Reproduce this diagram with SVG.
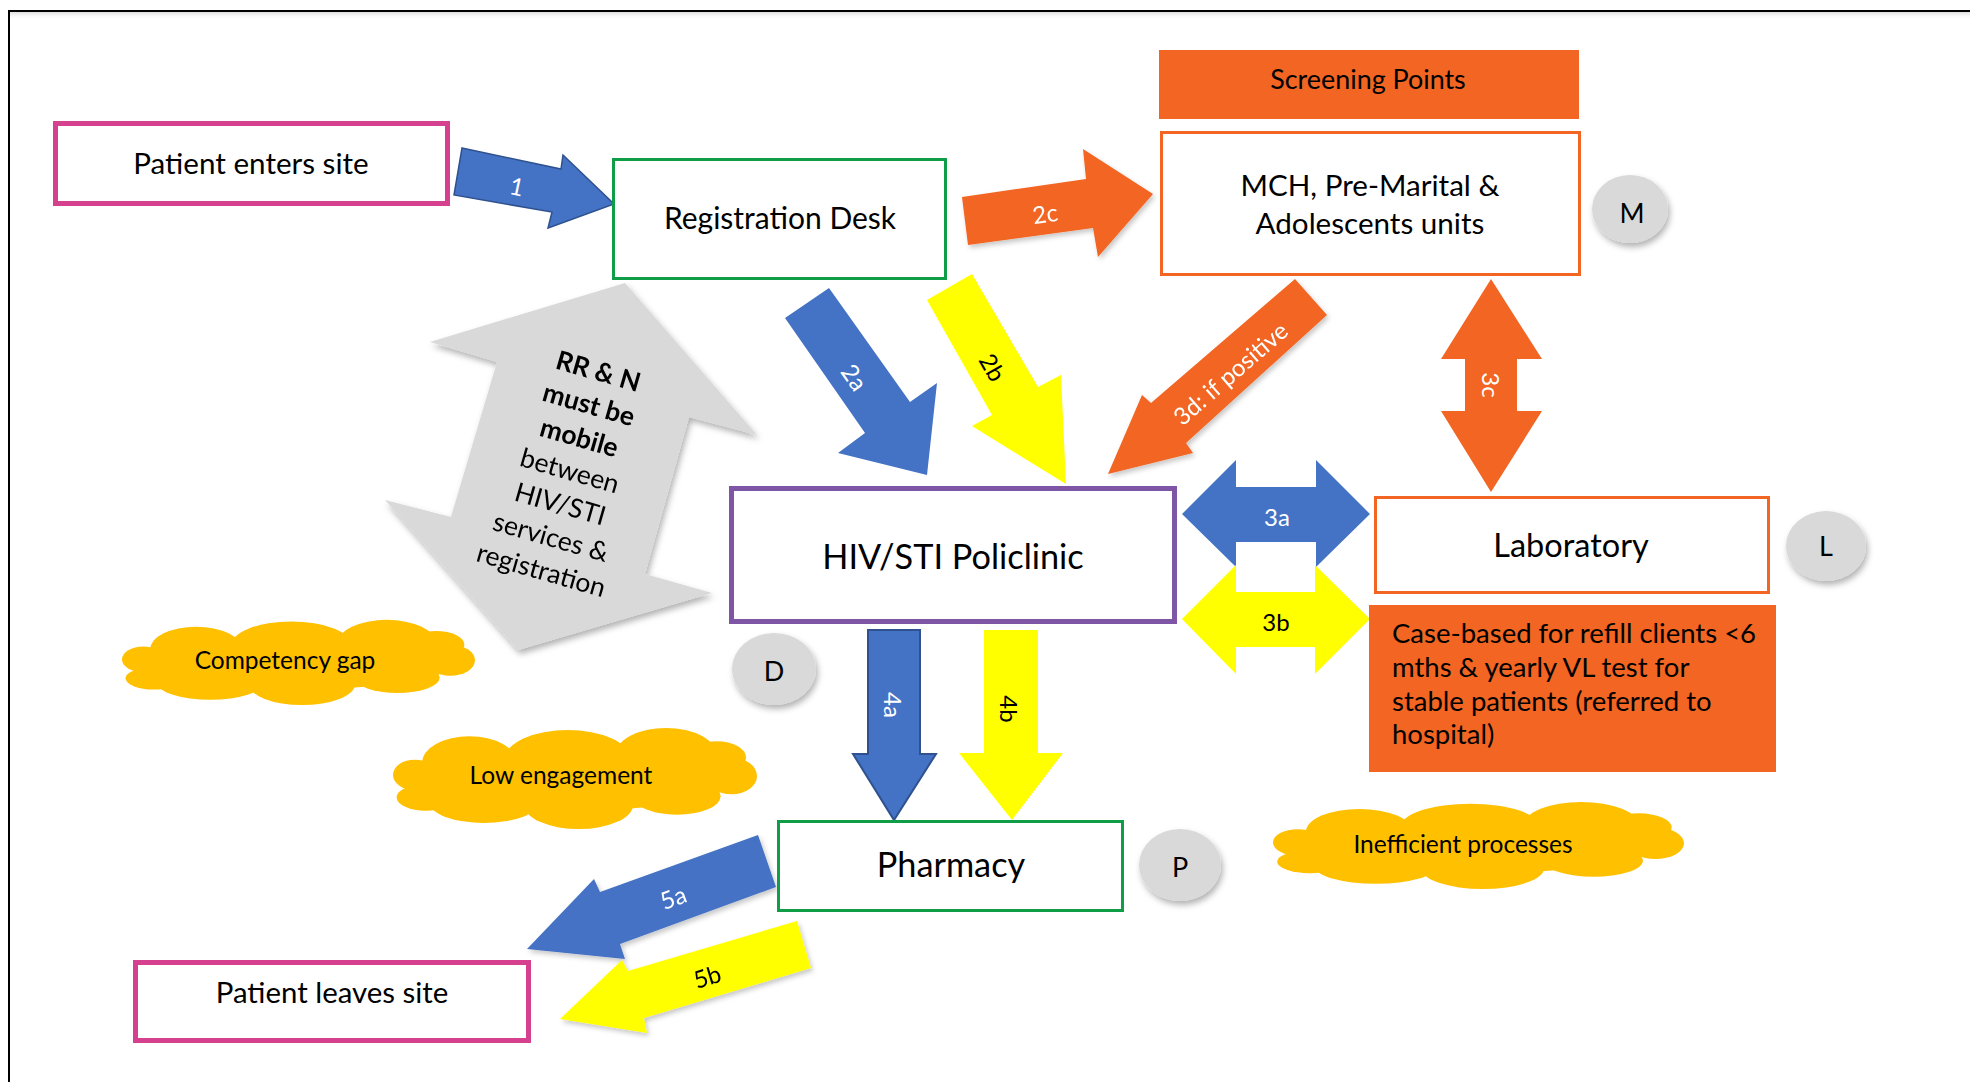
<svg xmlns="http://www.w3.org/2000/svg" xmlns:xlink="http://www.w3.org/1999/xlink" width="1970" height="1082" viewBox="0 0 1970 1082">
<style>
  text { font-family: Lato, "Liberation Sans", sans-serif; }
  .pink { stroke: #D5408F; stroke-width: 5; fill: #fff; }
  .green { stroke: #0F9D48; stroke-width: 3; fill: #fff; }
  .orangeS { stroke: #F26522; stroke-width: 3; fill: #fff; }
  .purple { stroke: #7F56A5; stroke-width: 5; fill: #fff; }
  .lbl { fill: #000; text-anchor: middle; }
  .circ { fill: #D9D9D9; filter: url(#sh); }
  .blue { fill: #4472C4; }
  .yellow { fill: #FFFF00; }
  .orange { fill: #F26522; }
  .gray { fill: #D9D9D9; }
  .alw { fill: #fff; font-size: 24px; text-anchor: middle; dominant-baseline: central; }
  .alb { fill: #000; font-size: 24px; text-anchor: middle; dominant-baseline: central; }
  .cloudtxt { fill: #000; font-size: 24.5px; text-anchor: middle; }
</style>
<defs>
  <filter id="sh" x="-30%" y="-30%" width="170%" height="180%">
    <feDropShadow dx="2" dy="4" stdDeviation="3" flood-color="#000" flood-opacity="0.3"/>
  </filter>
  <filter id="shs" x="-10%" y="-10%" width="130%" height="130%">
    <feDropShadow dx="2" dy="3" stdDeviation="2.5" flood-color="#000" flood-opacity="0.22"/>
  </filter>
  <linearGradient id="topsh" x1="0" y1="0" x2="0" y2="1">
    <stop offset="0" stop-color="#cfcfcf" stop-opacity="0.7"/>
    <stop offset="1" stop-color="#ffffff" stop-opacity="0"/>
  </linearGradient>
  <symbol id="cloud" viewBox="0 0 100 100" preserveAspectRatio="none">
    <g fill="#FFC000">
      <ellipse cx="50" cy="50" rx="42" ry="32"/>
      <ellipse cx="6" cy="47" rx="6" ry="15"/>
      <ellipse cx="21" cy="35" rx="13" ry="26"/>
      <ellipse cx="48" cy="30" rx="17" ry="27"/>
      <ellipse cx="75" cy="28" rx="14" ry="27"/>
      <ellipse cx="89" cy="30" rx="8" ry="16"/>
      <ellipse cx="93" cy="48" rx="7" ry="18"/>
      <ellipse cx="78" cy="68" rx="12" ry="18"/>
      <ellipse cx="51" cy="76" rx="15" ry="24"/>
      <ellipse cx="25" cy="74" rx="15" ry="20"/>
      <ellipse cx="9" cy="69" rx="8" ry="13"/>
    </g>
  </symbol>
</defs>

<rect x="0" y="0" width="1970" height="1082" fill="#fff"/>
<g id="frame">
  <rect x="10" y="12" width="1960" height="8" fill="url(#topsh)"/>
  <path d="M9,1082 V11 H1970" fill="none" stroke="#000" stroke-width="2"/>
</g>

<g id="connectors">
  <g id="arrow-1">
    <polygon class="blue" stroke="#2F528F" stroke-width="1.5" points="462,148 561,169 563,155 614,204 548,228 552,212 454,195"/>
    <text class="alw" transform="translate(517,186) rotate(12)">1</text>
  </g>
  <g id="arrow-2a">
    <polygon class="blue" points="829,288 910,402 937,383 927,475 838,453 865,433 785,318"/>
    <text class="alw" transform="translate(855,377) rotate(55)">2a</text>
  </g>
  <g id="arrow-2b">
    <polygon class="yellow" points="972,274 1038,387 1061,375 1066,484 972,426 992,415 927,300"/>
    <text class="alb" transform="translate(993,367) rotate(60)">2b</text>
  </g>
  <g id="arrow-2c" filter="url(#shs)">
    <polygon class="orange" points="962,197 1086,179 1083,149 1153,194 1098,257 1093,228 968,245"/>
    <text class="alw" transform="translate(1045,213) rotate(-8)">2c</text>
  </g>
  <g id="arrow-3d" filter="url(#shs)">
    <polygon class="orange" points="1295,279 1327,315 1186,443 1193,453 1108,474 1142,395 1151,403"/>
    <text class="alw" transform="translate(1230,373) rotate(-41)">3d: if positive</text>
  </g>
  <g id="arrow-3c">
    <polygon class="orange" points="1491,279 1542,359 1517,359 1517,411 1542,411 1491,492 1441,411 1465,411 1465,359 1441,359"/>
    <text class="alw" transform="translate(1491,385) rotate(90)">3c</text>
  </g>
  <g id="arrow-3a">
    <polygon class="blue" points="1182,514 1236,460 1236,487 1316,487 1316,460 1370,514 1316,567 1316,542 1236,542 1236,567"/>
    <text class="alw" x="1277" y="516">3a</text>
  </g>
  <g id="arrow-3b">
    <polygon class="yellow" points="1182,619 1236,565 1236,592 1315,592 1315,565 1370,619 1315,674 1315,647 1236,647 1236,674"/>
    <text class="alb" x="1276" y="621">3b</text>
  </g>
  <g id="arrow-4a">
    <polygon class="blue" stroke="#2F528F" stroke-width="2" points="868,630 920,630 920,754 936,754 894,820 853,754 868,754"/>
    <text class="alw" transform="translate(893,705) rotate(90)">4a</text>
  </g>
  <g id="arrow-4b">
    <polygon class="yellow" points="984,630 1038,630 1038,753 1063,753 1012,820 959,753 984,753"/>
    <text class="alb" transform="translate(1009,709) rotate(90)">4b</text>
  </g>
  <g id="arrow-5a" filter="url(#shs)">
    <polygon class="blue" points="758,835 776,887 620,944 625,959 527,949 594,879 600,892"/>
    <text class="alw" transform="translate(673,897) rotate(-20)">5a</text>
  </g>
  <g id="arrow-5b" filter="url(#shs)">
    <polygon class="yellow" points="797,921 811,968 644,1018 647,1033 560,1019 622,960 628,971"/>
    <text class="alb" transform="translate(707,976) rotate(-17)">5b</text>
  </g>
  <g id="arrow-rrn" filter="url(#sh)">
    <polygon class="gray" points="625,283 757,435 689,417 645,574 712,593 518,650 385,500 451,517 497,362 430,342"/>
    <g transform="translate(570,470) rotate(16)" font-size="26.5" text-anchor="middle" dominant-baseline="central">
      <text x="0" y="-103.5" font-weight="bold">RR &amp; N</text>
      <text x="0" y="-69" font-weight="bold">must be</text>
      <text x="0" y="-34.5" font-weight="bold">mobile</text>
      <text x="0" y="0">between</text>
      <text x="0" y="34.5">HIV/STI</text>
      <text x="0" y="69">services &amp;</text>
      <text x="0" y="103.5">registration</text>
    </g>
  </g>
</g>

<g id="patient-enters">
  <rect class="pink" x="55.5" y="123.5" width="392" height="80"/>
  <text class="lbl" x="251" y="174" font-size="29.6">Patient enters site</text>
</g>
<g id="registration">
  <rect class="green" x="613.5" y="159.5" width="332" height="119"/>
  <text class="lbl" x="780" y="229" font-size="30">Registration Desk</text>
</g>
<g id="screening-points">
  <rect x="1159" y="50" width="420" height="69" fill="#F26522"/>
  <text class="lbl" x="1368" y="89" font-size="26.9">Screening Points</text>
</g>
<g id="mch">
  <rect class="orangeS" x="1161.5" y="132.5" width="418" height="142"/>
  <text class="lbl" x="1370" y="196" font-size="29.6">MCH, Pre-Marital &amp;</text>
  <text class="lbl" x="1370" y="234" font-size="29.6">Adolescents units</text>
</g>
<g id="circle-m">
  <ellipse class="circ" cx="1630" cy="209" rx="38" ry="34"/>
  <text class="lbl" x="1632" y="223" font-size="27">M</text>
</g>
<g id="hiv-sti">
  <rect class="purple" x="731.5" y="488.5" width="443" height="133"/>
  <text class="lbl" x="953" y="569" font-size="34.3">HIV/STI Policlinic</text>
</g>
<g id="laboratory">
  <rect class="orangeS" x="1375.5" y="497.5" width="393" height="95"/>
  <text class="lbl" x="1571" y="557" font-size="32.5">Laboratory</text>
</g>
<g id="circle-l">
  <ellipse class="circ" cx="1826" cy="546" rx="40" ry="35"/>
  <text class="lbl" x="1826" y="556" font-size="27">L</text>
</g>
<g id="case-based">
  <rect x="1369" y="605" width="407" height="167" fill="#F26522"/>
  <g font-size="27.5" fill="#000">
    <text x="1392" y="643">Case-based for refill clients &lt;6</text>
    <text x="1392" y="677">mths &amp; yearly VL test for</text>
    <text x="1392" y="711">stable patients (referred to</text>
    <text x="1392" y="744">hospital)</text>
  </g>
</g>
<g id="circle-d">
  <ellipse class="circ" cx="774" cy="669" rx="42" ry="36"/>
  <text class="lbl" x="774" y="681" font-size="27">D</text>
</g>
<g id="pharmacy">
  <rect class="green" x="778.5" y="821.5" width="344" height="89"/>
  <text class="lbl" x="951" y="877" font-size="34.3">Pharmacy</text>
</g>
<g id="circle-p">
  <ellipse class="circ" cx="1180" cy="865" rx="41" ry="36"/>
  <text class="lbl" x="1180" y="877" font-size="27">P</text>
</g>
<g id="patient-leaves">
  <rect class="pink" x="135.5" y="962.5" width="393" height="78"/>
  <text class="lbl" x="332" y="1003" font-size="29.4">Patient leaves site</text>
</g>
<g id="cloud-competency">
  <use xlink:href="#cloud" x="122" y="619" width="353" height="86"/>
  <text class="cloudtxt" x="285" y="669">Competency gap</text>
</g>
<g id="cloud-engagement">
  <use xlink:href="#cloud" x="393" y="727" width="364" height="102"/>
  <text class="cloudtxt" x="561" y="784">Low engagement</text>
</g>
<g id="cloud-inefficient">
  <use xlink:href="#cloud" x="1273" y="801" width="411" height="88"/>
  <text class="cloudtxt" x="1463" y="853">Inefficient processes</text>
</g>
</svg>
